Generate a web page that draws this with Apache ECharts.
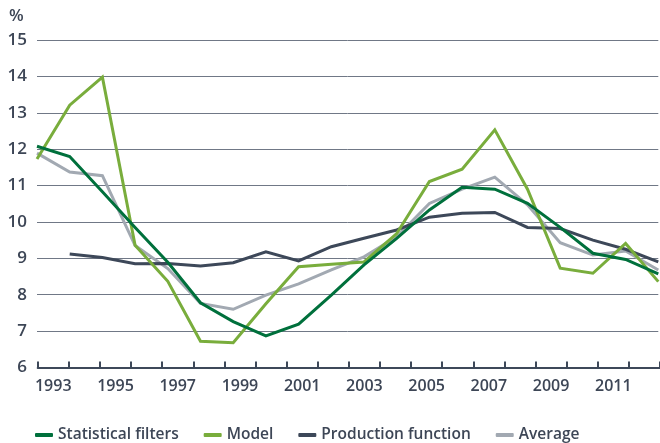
<!DOCTYPE html>
<html>
<head>
<meta charset="utf-8">
<script src="https://cdn.jsdelivr.net/npm/echarts@6/dist/echarts.min.js"></script>
<style>html,body{margin:0;padding:0;background:#fff}#c{width:660px;height:443px}</style>
</head>
<body>
<div id="c"></div>
<script>
// Data points (20 points, one per year, 1993-2012)
const pointIndex = [0,1,2,3,4,5,6,7,8,9,10,11,12,13,14,15,16,17,18,19];
const years = ['1993','1994','1995','1996','1997','1998','1999','2000','2001','2002','2003','2004','2005','2006','2007','2008','2009','2010','2011','2012'];
const statisticalFilters = [12.08, 11.8, 10.83, 9.85, 8.89, 7.78, 7.26, 6.87, 7.19, 7.99, 8.82, 9.55, 10.33, 10.95, 10.9, 10.51, 9.85, 9.14, 8.97, 8.57];
const model = [11.73, 13.21, 13.98, 9.36, 8.37, 6.72, 6.68, 7.75, 8.77, 8.84, 8.9, 9.68, 11.11, 11.45, 12.53, 10.9, 8.73, 8.59, 9.41, 8.36];
const productionFunction = [null, 9.12, 9.02, 8.85, 8.86, 8.79, 8.88, 9.18, 8.93, 9.32, 9.55, 9.78, 10.13, 10.24, 10.26, 9.85, 9.82, 9.5, 9.25, 8.9];
const average = [11.89, 11.37, 11.27, 9.35, 8.72, 7.76, 7.6, 7.99, 8.3, 8.68, 9.04, 9.59, 10.51, 10.9, 11.23, 10.47, 9.43, 9.09, 9.2, 8.68];
const yTicks = [6, 7, 8, 9, 10, 11, 12, 13, 14, 15];

const names = ['Statistical filters', 'Model', 'Production function', 'Average'];
const colors = {'Statistical filters':'#00703c','Model':'#79ad3c','Production function':'#3d4859','Average':'#a2a9b2'};
const txt = '#3d4656';
const font = 'Open Sans';

function pairs(arr){ return arr.map((v,i)=>[pointIndex[i], v]); }

const chart = echarts.init(document.getElementById('c'), null, {renderer:'canvas'});
const mk = (name, arr, z) => ({
  name, type:'line', xAxisIndex:0, yAxisIndex:0, data: pairs(arr),
  showSymbol:false, symbol:'none', connectNulls:false, z,
  lineStyle:{color:colors[name], width:3, join:'miter'}, itemStyle:{color:colors[name]}
});
chart.setOption({
  animation:false,
  textStyle:{fontFamily:font},
  graphic:[{type:'text', left:9, top:8, style:{text:'%', fill:txt, font:'600 17px "Open Sans"'}}],
  grid:[
    {left:37, top:40, width:621.3, bottom:75.5},
    {left:37.7, top:40, width:624.6, bottom:75.5}
  ],
  xAxis:[
    {type:'value', gridIndex:0, min:0, max:19, show:false},
    {type:'category', gridIndex:1, data:years, boundaryGap:true,
     axisLine:{show:true, lineStyle:{color:'#3d4859', width:2}},
     axisTick:{show:true, inside:true, length:6, interval:0, lineStyle:{color:'#3d4859', width:2}},
     axisLabel:{interval:1, color:txt, fontSize:16, fontWeight:600, margin:11, fontFamily:font},
     splitLine:{show:false}}
  ],
  yAxis:[
    {type:'value', gridIndex:0, min:yTicks[0], max:yTicks[yTicks.length-1], interval:1,
     axisLine:{show:false}, axisTick:{show:false},
     axisLabel:{color:txt, fontSize:17, fontWeight:600, margin:10, fontFamily:font},
     splitLine:{show:true, lineStyle:{color:'#707886', width:1}}},
    {type:'value', gridIndex:1, min:6, max:15, show:false}
  ],
  legend:{
    data:names, left:30, top:422, itemWidth:18, itemHeight:4, itemGap:25, icon:'roundRect',
    textStyle:{color:txt, fontSize:15.5, fontWeight:600, fontFamily:font}
  },
  series:[
    mk('Average', average, 2),
    mk('Production function', productionFunction, 3),
    mk('Model', model, 4),
    mk('Statistical filters', statisticalFilters, 5)
  ]
});
</script>
</body>
</html>
